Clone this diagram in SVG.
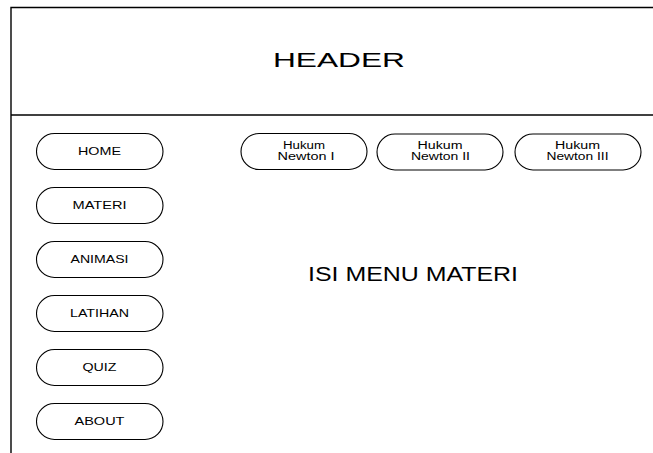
<svg xmlns="http://www.w3.org/2000/svg" width="653" height="453" viewBox="0 0 653 453">
<style>
.frame{fill:none;stroke:#000;stroke-width:1.4}
.pill{fill:#fff;stroke:#000;stroke-width:1.1}
.t{font-family:"Liberation Sans",Arial,sans-serif;fill:#000;text-anchor:middle}
.big{font-size:19.5px}
.sm{font-size:11px}
.xs{font-size:10px}
</style>
<rect width="653" height="453" fill="#fff"/>
<g id="frame">
<path class="frame" d="M11,453 V7.5 H653"/>
<path class="frame" d="M11,115 H653"/>
</g>
<g id="header"><text class="t big" x="339" y="67.3" textLength="132" lengthAdjust="spacingAndGlyphs">HEADER</text></g>
<g id="content"><text class="t big" x="413" y="281" textLength="210" lengthAdjust="spacingAndGlyphs">ISI MENU MATERI</text></g>
<g id="home"><rect class="pill" x="36.5" y="133.5" width="126.5" height="36" rx="18" ry="18"/><text class="t sm" x="99.5" y="154.7" textLength="43" lengthAdjust="spacingAndGlyphs">HOME</text></g>
<g id="materi"><rect class="pill" x="36.5" y="187.5" width="126.5" height="36" rx="18" ry="18"/><text class="t sm" x="99.5" y="208.7" textLength="54" lengthAdjust="spacingAndGlyphs">MATERI</text></g>
<g id="animasi"><rect class="pill" x="36.5" y="241.5" width="126.5" height="36" rx="18" ry="18"/><text class="t sm" x="99.5" y="262.7" textLength="58" lengthAdjust="spacingAndGlyphs">ANIMASI</text></g>
<g id="latihan"><rect class="pill" x="36.5" y="295.5" width="126.5" height="36" rx="18" ry="18"/><text class="t sm" x="99.5" y="316.7" textLength="59" lengthAdjust="spacingAndGlyphs">LATIHAN</text></g>
<g id="quiz"><rect class="pill" x="36.5" y="349.5" width="126.5" height="36" rx="18" ry="18"/><text class="t sm" x="99.5" y="370.7" textLength="34" lengthAdjust="spacingAndGlyphs">QUIZ</text></g>
<g id="about"><rect class="pill" x="36.5" y="403.5" width="126.5" height="36" rx="18" ry="18"/><text class="t sm" x="99.5" y="424.7" textLength="50" lengthAdjust="spacingAndGlyphs">ABOUT</text></g>
<g id="newton1"><rect class="pill" x="241" y="133.5" width="126" height="36" rx="18" ry="18"/><text class="t xs" x="304" y="148.5" textLength="42" lengthAdjust="spacingAndGlyphs">Hukum</text><text class="t xs" x="306" y="160" textLength="57" lengthAdjust="spacingAndGlyphs">Newton I</text></g>
<g id="newton2"><rect class="pill" x="377" y="134" width="126" height="36" rx="18" ry="18"/><text class="t xs" x="440" y="148.5" textLength="45" lengthAdjust="spacingAndGlyphs">Hukum</text><text class="t xs" x="440.5" y="160" textLength="59" lengthAdjust="spacingAndGlyphs">Newton II</text></g>
<g id="newton3"><rect class="pill" x="515" y="134" width="126" height="36" rx="18" ry="18"/><text class="t xs" x="577.5" y="148.5" textLength="45" lengthAdjust="spacingAndGlyphs">Hukum</text><text class="t xs" x="577.5" y="160" textLength="62" lengthAdjust="spacingAndGlyphs">Newton III</text></g>
<g id="connectors"></g>
</svg>
